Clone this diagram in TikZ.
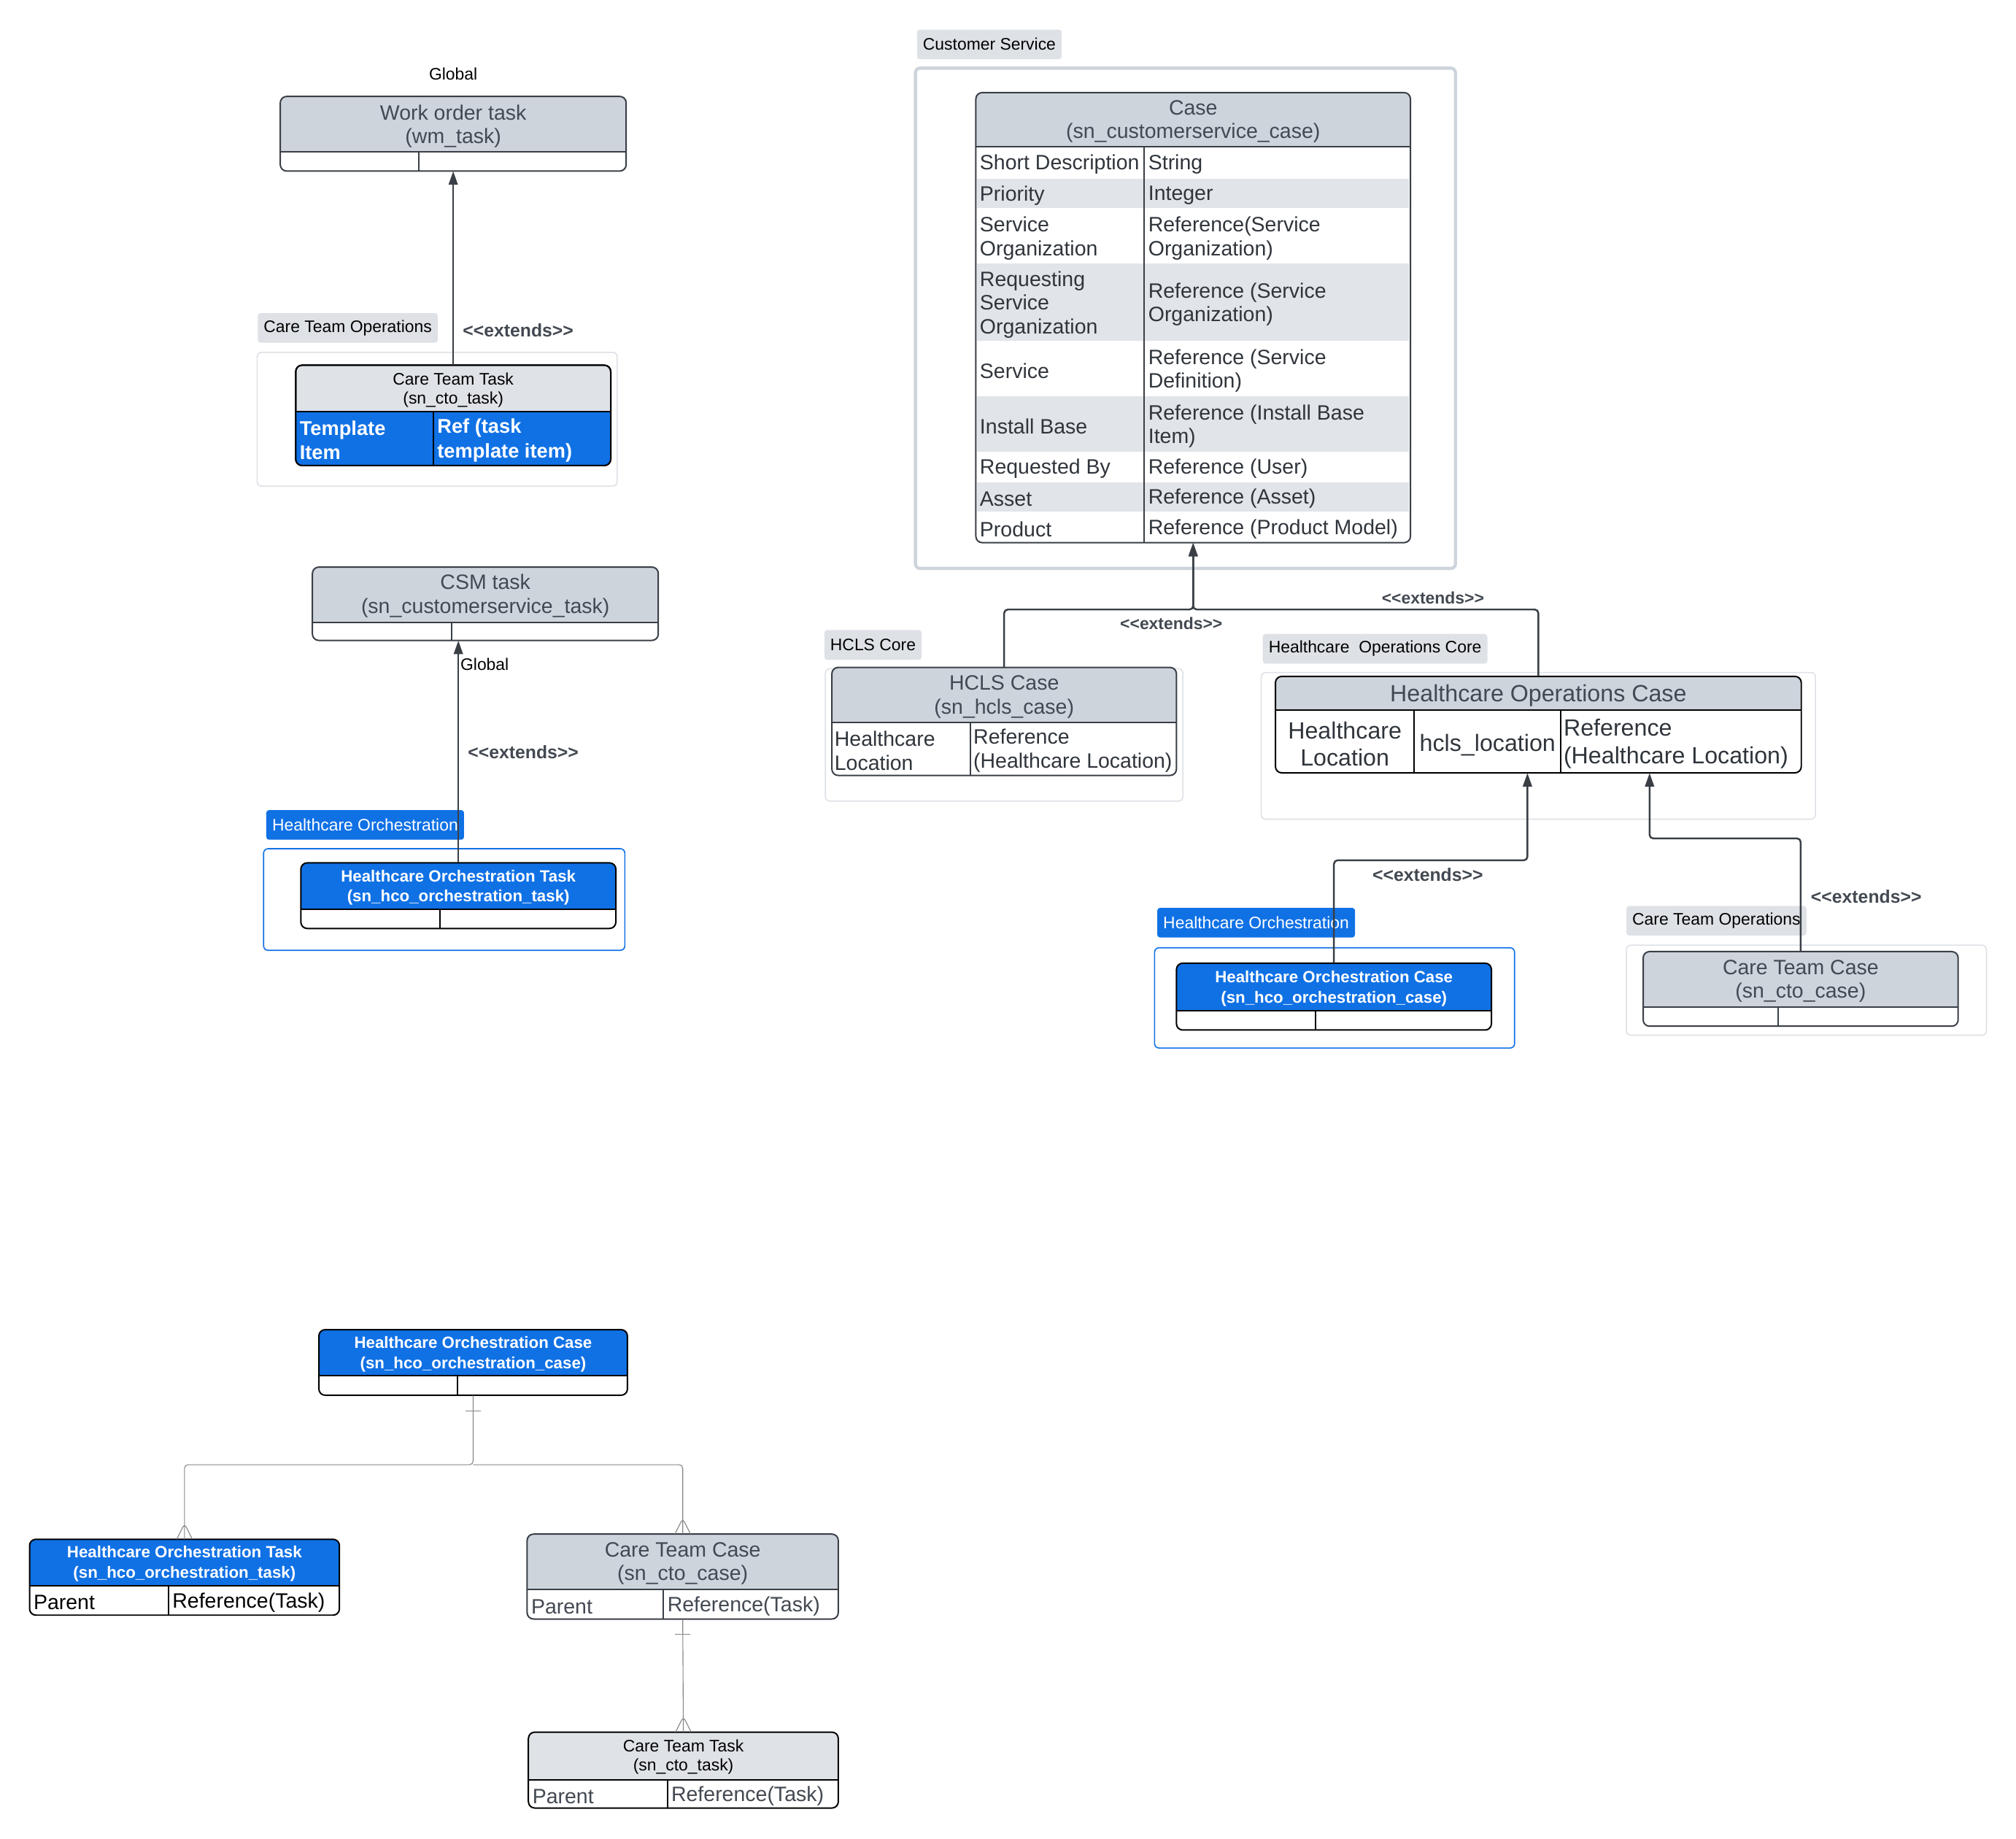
\documentclass[tikz,border=0pt]{standalone}
\usepackage{fontspec}
\setmainfont{Liberation Sans}
\usetikzlibrary{arrows.meta,fit,calc}

\definecolor{hdrgray}{HTML}{CED4DC}
\definecolor{hdrlight}{HTML}{DFE2E7}
\definecolor{rowgray}{HTML}{E1E4E9}
\definecolor{taggray}{HTML}{DEE1E6}
\definecolor{hcoblue}{HTML}{1071E5}
\definecolor{dkline}{HTML}{3A3F46}
\definecolor{dktext}{HTML}{434952}
\definecolor{fldtext}{HTML}{30353C}
\definecolor{grpline}{HTML}{DDE0E5}
\definecolor{erline}{HTML}{858585}

\newcommand{\erbox}[9]{%
  \node[fit={(#2,#3) (#4,#5)}, inner sep=0pt] (#1) {};
  \fill[white, rounded corners=7pt] (#2,#3) rectangle (#4,#5);
  \fill[#8, rounded corners=7pt] (#2,#3) rectangle (#4,#6);
  \fill[#8] (#2,#6-8) rectangle (#4,#6);
  \draw[#9, line width=1.6pt] (#2,#6) -- (#4,#6) (#7,#6) -- (#7,#5);
  \draw[#9, line width=1.6pt, rounded corners=7pt] (#2,#3) rectangle (#4,#5);
}

\begin{document}
\begin{tikzpicture}[x=0.5mm, y=-0.5mm,
    fnorm/.style={font=\fontsize{23pt}{26pt}\selectfont},
    fsmall/.style={font=\fontsize{18.5pt}{21pt}\selectfont},
    flarge/.style={font=\fontsize{26pt}{30pt}\selectfont},
    hdrtxt/.style={fnorm, text=dktext, align=center, inner sep=0pt, yshift=-0.7mm},
    bluehdr/.style={font=\fontsize{18pt}{22.5pt}\selectfont\bfseries, text=white, align=center, inner sep=0pt, yshift=-0.6mm},
    fld/.style={fnorm, text=fldtext, anchor=west, align=left, inner sep=0pt, yshift=-0.7mm},
    tag/.style={fill=taggray, rounded corners=3pt, fsmall, minimum height=11.5mm, inner xsep=2.3mm, inner ysep=0pt},
    grp/.style={draw=grpline, line width=1.3pt, rounded corners=5pt},
    extlbl/.style={font=\fontsize{20pt}{22pt}\selectfont\bfseries, text=dktext, inner sep=0pt},
    ext/.style={draw=dkline, line width=2pt, rounded corners=4pt, -{Triangle[length=15pt,width=10pt]}},
    er/.style={draw=erline, line width=0.9pt, rounded corners=4pt}]

\useasboundingbox (0,0) rectangle (1568,1430);

\draw[grp] (200,274) rectangle (480,378);
\draw[grp, draw=hcoblue] (205,660) rectangle (486,739);
\draw[grp, draw=hdrgray, line width=3.5pt] (712,53) rectangle (1132,442);
\draw[grp] (642,520) rectangle (920,623);
\draw[grp] (981,523) rectangle (1412,637);
\draw[grp, draw=hcoblue] (898,737) rectangle (1178,815);
\draw[grp] (1265,735) rectangle (1545,805);

\node[tag] (ctotag1) at (270.5,255) {Care Team Operations};
\node[tag, fill=hcoblue, text=white] (hcotag1) at (284,641.5) {Healthcare Orchestration};
\node[tag] (cstag) at (769.5,34.5) {Customer Service};
\node[tag] (hclstag) at (679,501.5) {HCLS Core};
\node[tag] (hoptag) at (1069.5,504.5) {Healthcare\ \ Operations Core};
\node[tag, fill=hcoblue, text=white] (hcotag2) at (977,717.5) {Healthcare Orchestration};
\node[tag] (ctotag2) at (1335,716) {Care Team Operations};

\node[fsmall, inner sep=0pt] (glob1) at (352.5,57.5) {Global};
\node[fsmall, inner sep=0pt, anchor=west] (glob2) at (358,516.5) {Global};

\erbox{wmtask}{218}{75}{487}{133}{118}{326}{hdrgray}{dkline}
\node[hdrtxt] (wmtaskh) at (352.5,97) {Work order task\\(wm\_task)};

\erbox{ctotask}{230}{284}{475}{362}{320}{337}{hdrlight}{black}
\fill[hcoblue, rounded corners=7pt] (230,320) rectangle (475,362);
\fill[hcoblue] (230,320) rectangle (475,330);
\draw[black, line width=1.6pt] (230,320) -- (475,320) (337,320) -- (337,362);
\draw[black, line width=1.6pt, rounded corners=7pt] (230,284) rectangle (475,362);
\node[hdrtxt, fsmall, text=black] (ctotaskh) at (352.5,302) {Care Team Task\\(sn\_cto\_task)};
\node[fld, font=\fontsize{22pt}{27pt}\selectfont\bfseries, text=white] (ctotaska) at (233,341) {Template\\Item};
\node[fld, font=\fontsize{22pt}{27pt}\selectfont\bfseries, text=white] (ctotaskb) at (340,341) {Ref (task\\template item)};

\erbox{csmtask}{243}{441}{512}{498}{484}{351}{hdrgray}{dkline}
\node[hdrtxt] (csmtaskh) at (377.5,462) {CSM task\\(sn\_customerservice\_task)};

\erbox{hotask}{234}{671}{479}{722}{707}{342}{hcoblue}{black}
\node[bluehdr] (hotaskh) at (356.5,689) {Healthcare Orchestration Task\\(sn\_hco\_orchestration\_task)};

\erbox{case}{759}{72}{1097}{422}{114}{890}{hdrgray}{dkline}
\fill[rowgray] (760,139) rectangle (1096,162);
\fill[rowgray] (760,205) rectangle (1096,265);
\fill[rowgray] (760,308) rectangle (1096,351);
\fill[rowgray] (760,375) rectangle (1096,398);
\draw[dkline, line width=1.6pt] (890,114) -- (890,422);
\node[hdrtxt] (caseh) at (928,93) {Case\\(sn\_customerservice\_case)};
\node[fld] (case1a) at (762,126.5) {Short Description};
\node[fld] (case1b) at (893,126.5) {String};
\node[fld] (case2a) at (762,150.5) {Priority};
\node[fld] (case2b) at (893,150.5) {Integer};
\node[fld] (case3a) at (762,184) {Service\\Organization};
\node[fld] (case3b) at (893,184) {Reference(Service\\Organization)};
\node[fld] (case4a) at (762,235.5) {Requesting\\Service\\Organization};
\node[fld] (case4b) at (893,235.5) {Reference (Service\\Organization)};
\node[fld] (case5a) at (762,287) {Service};
\node[fld] (case5b) at (893,287) {Reference (Service\\Definition)};
\node[fld] (case6a) at (762,330) {Install Base};
\node[fld] (case6b) at (893,330) {Reference (Install Base\\Item)};
\node[fld] (case7a) at (762,363) {Requested By};
\node[fld] (case7b) at (893,363) {Reference (User)};
\node[fld] (case8a) at (762,386.5) {Asset};
\node[fld] (case8b) at (893,386.5) {Reference (Asset)};
\node[fld] (case9a) at (762,410) {Product};
\node[fld] (case9b) at (893,410) {Reference (Product Model)};

\erbox{hclscase}{647}{519}{915}{603}{562}{755}{hdrgray}{dkline}
\node[hdrtxt] (hclscaseh) at (781,540.5) {HCLS Case\\(sn\_hcls\_case)};
\node[fld, font=\fontsize{23pt}{27pt}\selectfont] (hclscasea) at (649,582.5) {Healthcare\\Location};
\node[fld, font=\fontsize{23pt}{27pt}\selectfont] (hclscaseb) at (757,582.5) {Reference\\(Healthcare Location)};

\erbox{hopcase}{992}{526}{1401}{601}{552}{1100}{hdrgray}{black}
\draw[black, line width=1.6pt] (1214,552) -- (1214,601);
\node[hdrtxt, flarge] (hopcaseh) at (1196.5,539.5) {Healthcare Operations Case};
\node[flarge, text=fldtext, align=center, inner sep=0pt, yshift=-0.7mm] (hopcasea) at (1046,577) {Healthcare\\Location};
\node[flarge, text=fldtext, inner sep=0pt, yshift=-0.7mm] (hopcaseb) at (1157,578) {hcls\_location};
\node[fld, flarge] (hopcasec) at (1216,577) {Reference\\(Healthcare Location)};

\erbox{hoocase}{915}{749}{1160}{801}{786}{1023}{hcoblue}{black}
\node[bluehdr] (hoocaseh) at (1037.5,767.5) {Healthcare Orchestration Case\\(sn\_hco\_orchestration\_case)};

\erbox{ctocase}{1278}{740}{1523}{798}{783}{1383}{hdrgray}{dkline}
\node[hdrtxt] (ctocaseh) at (1400.5,761.5) {Care Team Case\\(sn\_cto\_case)};

\erbox{hoocasetwo}{248}{1034}{488}{1085}{1070}{356}{hcoblue}{black}
\node[bluehdr] (hoocasetwoh) at (368,1052) {Healthcare Orchestration Case\\(sn\_hco\_orchestration\_case)};

\erbox{hotasktwo}{23}{1197}{264}{1256}{1233}{131}{hcoblue}{black}
\node[bluehdr] (hotasktwoh) at (143.5,1215) {Healthcare Orchestration Task\\(sn\_hco\_orchestration\_task)};
\node[fld, text=black] (hotasktwoa) at (26,1245) {Parent};
\node[fld, text=black] (hotasktwob) at (134,1245) {Reference(Task)};

\erbox{ctocasetwo}{410}{1193}{652}{1259}{1236}{516}{hdrgray}{dkline}
\node[hdrtxt] (ctocasetwoh) at (531,1214.5) {Care Team Case\\(sn\_cto\_case)};
\node[fld, text=dktext] (ctocasetwoa) at (413,1248) {Parent};
\node[fld, text=dktext] (ctocasetwob) at (519,1248) {Reference(Task)};

\erbox{ctotasktwo}{411}{1347}{652}{1406}{1384}{519}{hdrlight}{black}
\node[hdrtxt, fsmall, text=black] (ctotasktwoh) at (531.5,1365) {Care Team Task\\(sn\_cto\_task)};
\node[fld, text=dktext] (ctotasktwoa) at (414,1395.5) {Parent};
\node[fld, text=dktext] (ctotasktwob) at (522,1395.5) {Reference(Task)};

\node[extlbl] (ext1) at (403,257) {<{}<extends>{}>};
\node[extlbl] (ext2) at (407,585) {<{}<extends>{}>};
\node[extlbl, font=\fontsize{18.5pt}{22pt}\selectfont\bfseries] (ext3) at (911,485) {<{}<extends>{}>};
\node[extlbl, font=\fontsize{18.5pt}{22pt}\selectfont\bfseries] (ext4) at (1114.5,465) {<{}<extends>{}>};
\node[extlbl] (ext5) at (1110.5,680) {<{}<extends>{}>};
\node[extlbl] (ext6) at (1451.5,697) {<{}<extends>{}>};

\draw[ext] (ctotask.north) -- (wmtask.south);
\draw[ext] (hotask.north) -- (hotask.north |- csmtask.south);
\coordinate (casejoin) at (928,474);
\draw[ext] (hclscase.north) |- (casejoin) -- (case.south);
\draw[ext] (hopcase.north) |- (casejoin) -- (case.south);
\coordinate (hopin1) at (1188,669);
\draw[ext] (hoocase.north) |- (hopin1) -- (hopin1 |- hopcase.south);
\coordinate (hopin2) at (1283,652);
\draw[ext] (ctocase.north) |- (hopin2) -- (hopin2 |- hopcase.south);

\coordinate (erjoin) at (368,1139);
\draw[er] (hoocasetwo.south) -- (erjoin) -| (hotasktwo.north);
\draw[er] (erjoin) -| (ctocasetwo.north);
\draw[er] (ctocasetwo.south) -- (ctotasktwo.north);
\draw[er] ($(hoocasetwo.south)+(-6,12)$) -- +(12,0);
\draw[er] ($(ctocasetwo.south)+(-6,12)$) -- +(12,0);
\draw[er] ($(hotasktwo.north)+(-6,0)$) -- ($(hotasktwo.north)+(0,-12)$) -- ($(hotasktwo.north)+(6,0)$);
\draw[er] ($(ctocasetwo.north)+(-6,0)$) -- ($(ctocasetwo.north)+(0,-12)$) -- ($(ctocasetwo.north)+(6,0)$);
\draw[er] ($(ctotasktwo.north)+(-6,0)$) -- ($(ctotasktwo.north)+(0,-12)$) -- ($(ctotasktwo.north)+(6,0)$);
\end{tikzpicture}
\end{document}
